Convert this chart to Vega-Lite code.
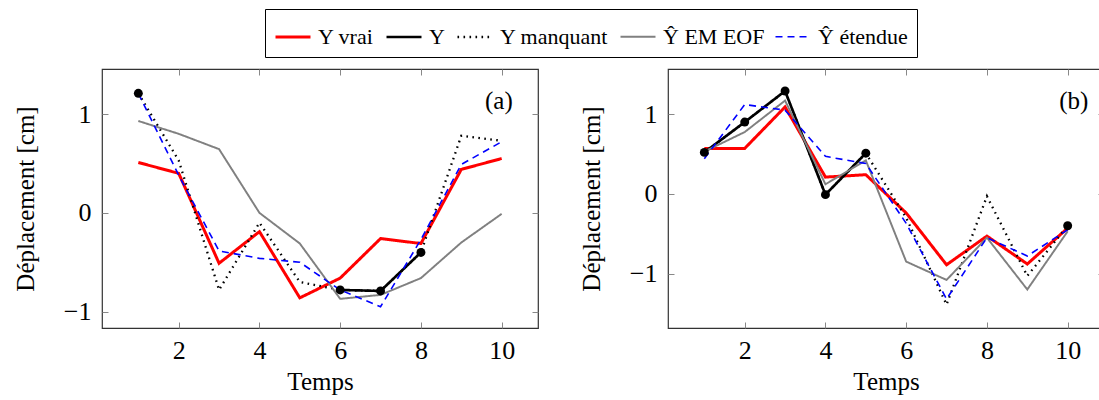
{
  "$schema": "https://vega.github.io/schema/vega-lite/v6.json",
  "padding": {"left": 12, "top": 8, "right": 0, "bottom": 0},
  "background": "white",
  "datasets": {
    "a": [
      {"t": 1, "s": "Y vrai", "v": 0.51}, {"t": 2, "s": "Y vrai", "v": 0.40}, {"t": 3, "s": "Y vrai", "v": -0.51}, {"t": 4, "s": "Y vrai", "v": -0.19}, {"t": 5, "s": "Y vrai", "v": -0.86},
      {"t": 6, "s": "Y vrai", "v": -0.66}, {"t": 7, "s": "Y vrai", "v": -0.26}, {"t": 8, "s": "Y vrai", "v": -0.31}, {"t": 9, "s": "Y vrai", "v": 0.44}, {"t": 10, "s": "Y vrai", "v": 0.55},
      {"t": 1, "s": "Y", "v": 1.21}, {"t": 2, "s": "Y", "v": null}, {"t": 3, "s": "Y", "v": null}, {"t": 4, "s": "Y", "v": null}, {"t": 5, "s": "Y", "v": null},
      {"t": 6, "s": "Y", "v": -0.78}, {"t": 7, "s": "Y", "v": -0.79}, {"t": 8, "s": "Y", "v": -0.40}, {"t": 9, "s": "Y", "v": null}, {"t": 10, "s": "Y", "v": null},
      {"t": 1, "s": "Y manquant", "v": 1.21}, {"t": 2, "s": "Y manquant", "v": 0.53}, {"t": 3, "s": "Y manquant", "v": -0.78}, {"t": 4, "s": "Y manquant", "v": -0.10}, {"t": 5, "s": "Y manquant", "v": -0.70},
      {"t": 6, "s": "Y manquant", "v": -0.78}, {"t": 7, "s": "Y manquant", "v": -0.79}, {"t": 8, "s": "Y manquant", "v": -0.40}, {"t": 9, "s": "Y manquant", "v": 0.78}, {"t": 10, "s": "Y manquant", "v": 0.73},
      {"t": 1, "s": "Ŷ EM EOF", "v": 0.93}, {"t": 2, "s": "Ŷ EM EOF", "v": 0.80}, {"t": 3, "s": "Ŷ EM EOF", "v": 0.645}, {"t": 4, "s": "Ŷ EM EOF", "v": 0.0}, {"t": 5, "s": "Ŷ EM EOF", "v": -0.31},
      {"t": 6, "s": "Ŷ EM EOF", "v": -0.87}, {"t": 7, "s": "Ŷ EM EOF", "v": -0.83}, {"t": 8, "s": "Ŷ EM EOF", "v": -0.66}, {"t": 9, "s": "Ŷ EM EOF", "v": -0.30}, {"t": 10, "s": "Ŷ EM EOF", "v": -0.01},
      {"t": 1, "s": "Ŷ étendue", "v": 1.21}, {"t": 2, "s": "Ŷ étendue", "v": 0.38}, {"t": 3, "s": "Ŷ étendue", "v": -0.385}, {"t": 4, "s": "Ŷ étendue", "v": -0.46}, {"t": 5, "s": "Ŷ étendue", "v": -0.50},
      {"t": 6, "s": "Ŷ étendue", "v": -0.78}, {"t": 7, "s": "Ŷ étendue", "v": -0.95}, {"t": 8, "s": "Ŷ étendue", "v": -0.27}, {"t": 9, "s": "Ŷ étendue", "v": 0.49}, {"t": 10, "s": "Ŷ étendue", "v": 0.72}
    ],
    "b": [
      {"t": 1, "s": "Y vrai", "v": 0.57}, {"t": 2, "s": "Y vrai", "v": 0.57}, {"t": 3, "s": "Y vrai", "v": 1.09}, {"t": 4, "s": "Y vrai", "v": 0.21}, {"t": 5, "s": "Y vrai", "v": 0.24},
      {"t": 6, "s": "Y vrai", "v": -0.24}, {"t": 7, "s": "Y vrai", "v": -0.89}, {"t": 8, "s": "Y vrai", "v": -0.53}, {"t": 9, "s": "Y vrai", "v": -0.88}, {"t": 10, "s": "Y vrai", "v": -0.43},
      {"t": 1, "s": "Y", "v": 0.52}, {"t": 2, "s": "Y", "v": 0.90}, {"t": 3, "s": "Y", "v": 1.29}, {"t": 4, "s": "Y", "v": -0.01}, {"t": 5, "s": "Y", "v": 0.51},
      {"t": 6, "s": "Y", "v": null}, {"t": 7, "s": "Y", "v": null}, {"t": 8, "s": "Y", "v": null}, {"t": 9, "s": "Y", "v": null}, {"t": 10, "s": "Y", "v": -0.40},
      {"t": 1, "s": "Y manquant", "v": 0.52}, {"t": 2, "s": "Y manquant", "v": 0.90}, {"t": 3, "s": "Y manquant", "v": 1.29}, {"t": 4, "s": "Y manquant", "v": -0.01}, {"t": 5, "s": "Y manquant", "v": 0.51},
      {"t": 6, "s": "Y manquant", "v": -0.30}, {"t": 7, "s": "Y manquant", "v": -1.39}, {"t": 8, "s": "Y manquant", "v": -0.03}, {"t": 9, "s": "Y manquant", "v": -1.03}, {"t": 10, "s": "Y manquant", "v": -0.40},
      {"t": 1, "s": "Ŷ EM EOF", "v": 0.53}, {"t": 2, "s": "Ŷ EM EOF", "v": 0.775}, {"t": 3, "s": "Ŷ EM EOF", "v": 1.17}, {"t": 4, "s": "Ŷ EM EOF", "v": 0.12}, {"t": 5, "s": "Ŷ EM EOF", "v": 0.42},
      {"t": 6, "s": "Ŷ EM EOF", "v": -0.85}, {"t": 7, "s": "Ŷ EM EOF", "v": -1.08}, {"t": 8, "s": "Ŷ EM EOF", "v": -0.55}, {"t": 9, "s": "Ŷ EM EOF", "v": -1.20}, {"t": 10, "s": "Ŷ EM EOF", "v": -0.47},
      {"t": 1, "s": "Ŷ étendue", "v": 0.44}, {"t": 2, "s": "Ŷ étendue", "v": 1.12}, {"t": 3, "s": "Ŷ étendue", "v": 1.05}, {"t": 4, "s": "Ŷ étendue", "v": 0.47}, {"t": 5, "s": "Ŷ étendue", "v": 0.38},
      {"t": 6, "s": "Ŷ étendue", "v": -0.37}, {"t": 7, "s": "Ŷ étendue", "v": -1.32}, {"t": 8, "s": "Ŷ étendue", "v": -0.55}, {"t": 9, "s": "Ŷ étendue", "v": -0.78}, {"t": 10, "s": "Ŷ étendue", "v": -0.45}
    ]
  },
  "config": {
    "font": "Liberation Serif, serif",
    "view": {"stroke": "#333", "strokeWidth": 1.2},
    "axis": {
      "labelFont": "Liberation Serif, serif", "labelFontSize": 26, "labelColor": "#000",
      "titleFont": "Liberation Serif, serif", "titleFontSize": 25, "titleFontWeight": "normal", "titleColor": "#000",
      "grid": false, "domain": false, "tickColor": "#888", "tickSize": -6, "tickWidth": 1
    },
    "legend": {"labelFont": "Liberation Serif, serif"},
    "text": {"font": "Liberation Serif, serif"}
  },
  "spacing": 130,
  "bounds": "flush",
  "hconcat": [
    {
      "width": 436, "height": 259,
      "data": {"name": "a"},
      "layer": [
        {
          "mark": {"type": "line", "strokeJoin": "miter"},
          "encoding": {
            "x": {"field": "t", "type": "quantitative", "scale": {"domain": [0.1, 10.9], "nice": false, "zero": false},
                  "axis": {"values": [2, 4, 6, 8, 10], "title": "Temps", "labelPadding": 15, "titlePadding": 6}},
            "y": {"field": "v", "type": "quantitative", "scale": {"domain": [-1.165, 1.456], "nice": false, "zero": false},
                  "axis": {"values": [-1, 0, 1], "title": "Déplacement [cm]", "labelPadding": 17, "titlePadding": 25}},
            "color": {"field": "s", "type": "nominal",
                      "scale": {"domain": ["Y vrai", "Y", "Y manquant", "Ŷ EM EOF", "Ŷ étendue"], "range": ["#ff0000", "#000000", "#000000", "#808080", "#0000ff"]},
                      "legend": {"orient": "none", "legendX": 163, "legendY": -60, "direction": "horizontal", "columns": 5, "title": null,
                                 "symbolType": "stroke", "symbolSize": 1225, "labelFont": "Liberation Serif, serif", "labelFontSize": 22, "labelColor": "#000",
                                 "strokeColor": "#000", "fillColor": "#fff", "padding": 9, "columnPadding": 7, "labelOffset": 6}},
            "strokeDash": {"field": "s", "type": "nominal",
                           "scale": {"domain": ["Y vrai", "Y", "Y manquant", "Ŷ EM EOF", "Ŷ étendue"], "range": [[1, 0], [1, 0], [1.6, 4.4], [1, 0], [7, 5]]}},
            "strokeWidth": {"field": "s", "type": "nominal",
                            "scale": {"domain": ["Y vrai", "Y", "Y manquant", "Ŷ EM EOF", "Ŷ étendue"], "range": [3, 1.6, 1.8, 1.8, 2]}}
          }
        },
        {
          "transform": [{"filter": "datum.s === 'Y' && isValid(datum.v)"}],
          "mark": {"type": "point", "filled": true, "size": 80, "color": "#000", "opacity": 1},
          "encoding": {
            "x": {"field": "t", "type": "quantitative", "scale": {"domain": [0.1, 10.9], "nice": false, "zero": false},
                  "axis": {"orient": "top", "values": [2, 4, 6, 8, 10], "labels": false, "title": null}},
            "y": {"field": "v", "type": "quantitative", "scale": {"domain": [-1.165, 1.456], "nice": false, "zero": false},
                  "axis": {"orient": "right", "values": [-1, 0, 1], "labels": false, "title": null}}
          }
        },
        {
          "data": {"values": [{"lab": "(a)"}]},
          "mark": {"type": "text", "font": "Liberation Serif, serif", "fontSize": 25, "color": "#000"},
          "encoding": {
            "x": {"datum": 9.93, "type": "quantitative", "axis": null},
            "y": {"datum": 1.13, "type": "quantitative", "axis": null},
            "text": {"field": "lab"}
          }
        }
      ],
      "resolve": {"axis": {"x": "independent", "y": "independent"}}
    },
    {
      "width": 436, "height": 259,
      "data": {"name": "b"},
      "layer": [
        {
          "mark": {"type": "line", "strokeJoin": "miter"},
          "encoding": {
            "x": {"field": "t", "type": "quantitative", "scale": {"domain": [0.1, 10.9], "nice": false, "zero": false},
                  "axis": {"values": [2, 4, 6, 8, 10], "title": "Temps", "labelPadding": 15, "titlePadding": 6}},
            "y": {"field": "v", "type": "quantitative", "scale": {"domain": [-1.683, 1.566], "nice": false, "zero": false},
                  "axis": {"values": [-1, 0, 1], "title": "Déplacement [cm]", "labelPadding": 17, "titlePadding": 25}},
            "color": {"field": "s", "type": "nominal",
                      "scale": {"domain": ["Y vrai", "Y", "Y manquant", "Ŷ EM EOF", "Ŷ étendue"], "range": ["#ff0000", "#000000", "#000000", "#808080", "#0000ff"]}},
            "strokeDash": {"field": "s", "type": "nominal",
                           "scale": {"domain": ["Y vrai", "Y", "Y manquant", "Ŷ EM EOF", "Ŷ étendue"], "range": [[1, 0], [1, 0], [1.6, 4.4], [1, 0], [7, 5]]}},
            "strokeWidth": {"field": "s", "type": "nominal",
                            "scale": {"domain": ["Y vrai", "Y", "Y manquant", "Ŷ EM EOF", "Ŷ étendue"], "range": [3, 1.6, 1.8, 1.8, 2]}}
          }
        },
        {
          "transform": [{"filter": "datum.s === 'Y' && isValid(datum.v)"}],
          "mark": {"type": "point", "filled": true, "size": 80, "color": "#000", "opacity": 1},
          "encoding": {
            "x": {"field": "t", "type": "quantitative", "scale": {"domain": [0.1, 10.9], "nice": false, "zero": false},
                  "axis": {"orient": "top", "values": [2, 4, 6, 8, 10], "labels": false, "title": null}},
            "y": {"field": "v", "type": "quantitative", "scale": {"domain": [-1.683, 1.566], "nice": false, "zero": false},
                  "axis": {"orient": "right", "values": [-1, 0, 1], "labels": false, "title": null}}
          }
        },
        {
          "data": {"values": [{"lab": "(b)"}]},
          "mark": {"type": "text", "font": "Liberation Serif, serif", "fontSize": 25, "color": "#000"},
          "encoding": {
            "x": {"datum": 10.15, "type": "quantitative", "axis": null},
            "y": {"datum": 1.16, "type": "quantitative", "axis": null},
            "text": {"field": "lab"}
          }
        }
      ],
      "resolve": {"axis": {"x": "independent", "y": "independent"}}
    }
  ]
}
